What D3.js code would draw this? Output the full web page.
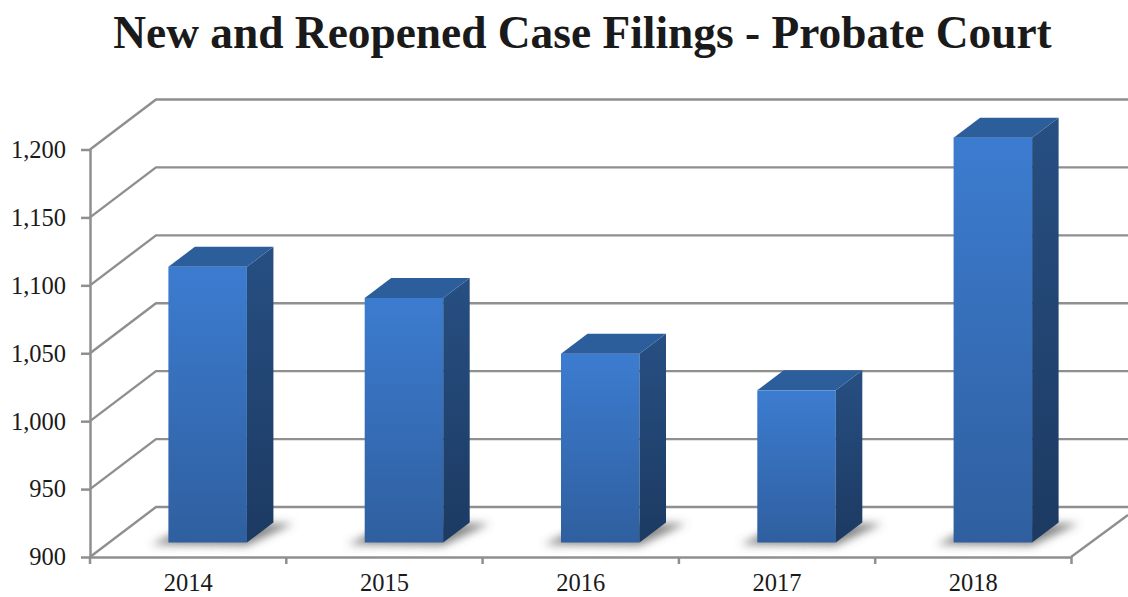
<!DOCTYPE html>
<html>
<head>
<meta charset="utf-8">
<script src="https://d3js.org/d3.v7.min.js"></script>
<style>
  html, body { margin: 0; padding: 0; background: #fff; overflow: hidden; }
  text { font-family: "Liberation Serif", serif; fill: #1a1a1a; }
</style>
</head>
<body>
<div id="chart"></div>
<script>
var title = "New and Reopened Case Filings - Probate Court";
var years = ["2014", "2015", "2016", "2017", "2018"];
var filings = [1103, 1080, 1039, 1012, 1198];
var yTicks = [900, 950, 1000, 1050, 1100, 1150, 1200];

var width = 1128, height = 597;

var svg = d3.select("#chart").append("svg")
    .attr("width", width)
    .attr("height", height)
    .style("display", "block");

var x = d3.scaleBand().domain(years).range([90, 1071.5]).paddingInner(0).paddingOuter(0);
var y = d3.scaleLinear().domain([900, 1200]).range([557, 149.5]);

// 3d offsets
var wall = { dx: 66, dy: -50 };
var front = { dx: 19.5, dy: -14.5 };
var depth = { dx: 26.5, dy: -20 };
var barWidth = x.bandwidth() * 0.4;

var defs = svg.append("defs");

function gradient(id, top, bottom) {
    var g = defs.append("linearGradient").attr("id", id)
        .attr("x1", 0).attr("y1", 0).attr("x2", 0).attr("y2", 1);
    g.append("stop").attr("offset", "0%").attr("stop-color", top);
    g.append("stop").attr("offset", "100%").attr("stop-color", bottom);
}
gradient("frontFace", "#3c7cd0", "#2f5f9f");
gradient("sideFace", "#274f82", "#1c3a62");

defs.append("filter").attr("id", "blur")
    .attr("x", "-30%").attr("y", "-50%").attr("width", "160%").attr("height", "200%")
    .append("feGaussianBlur").attr("stdDeviation", 4.5);

svg.append("text")
    .attr("x", 582.5)
    .attr("y", 48)
    .attr("text-anchor", "middle")
    .attr("font-size", 45.4)
    .attr("font-weight", "bold")
    .text(title);

// wall and floor lines
var grid = svg.append("g").attr("class", "grid")
    .attr("fill", "none").attr("stroke", "#8f8f8f").attr("stroke-width", 2.4);

grid.selectAll("path")
    .data(yTicks)
    .enter().append("path")
    .attr("d", function(d) {
        var p = d3.path();
        p.moveTo(90, y(d));
        p.lineTo(90 + wall.dx, y(d) + wall.dy);
        p.lineTo(width, y(d) + wall.dy);
        return p.toString();
    });

grid.append("path")
    .attr("d", function() {
        var p = d3.path();
        p.moveTo(1071, y(900));
        p.lineTo(width, y(900) - 42);
        return p.toString();
    });

// axes
var yAxis = svg.append("g").attr("class", "yaxis")
    .attr("transform", "translate(90,0)")
    .call(d3.axisLeft(y).tickValues(yTicks).tickFormat(d3.format(",")).tickSize(9).tickSizeOuter(0));

yAxis.selectAll("text").attr("x", -24).attr("font-size", 24.5).attr("font-family", null);

var xAxis = svg.append("g").attr("class", "xaxis")
    .attr("transform", "translate(0," + y(900) + ")")
    .call(d3.axisBottom(x).tickSize(0));

xAxis.selectAll("text").attr("y", 17).attr("font-size", 24.5).attr("font-family", null);

xAxis.selectAll(".edge")
    .data(years.concat("end"))
    .enter().append("line")
    .attr("class", "edge")
    .attr("x1", function(d, i) { return x(years[0]) + i * x.step(); })
    .attr("x2", function(d, i) { return x(years[0]) + i * x.step(); })
    .attr("y1", 0)
    .attr("y2", 7);

svg.selectAll(".yaxis path, .yaxis line, .xaxis path, .xaxis line")
    .attr("stroke", "#8f8f8f")
    .attr("stroke-width", 2.5);

// bars
var bars = svg.append("g").attr("class", "bars")
    .selectAll("g")
    .data(years)
    .enter().append("g")
    .attr("class", "bar");

function barLeft(d) { return x(d) + (x.bandwidth() - barWidth) / 2 + front.dx; }
function barBase() { return y(900) + front.dy; }
function barTop(d, i) { return y(filings[i]) + front.dy; }

function poly(points) {
    return d3.line()(points) + "Z";
}

bars.append("path")
    .attr("fill", "#555")
    .attr("fill-opacity", 0.7)
    .attr("filter", "url(#blur)")
    .attr("d", function(d) {
        var l = barLeft(d), b = barBase(), r = l + barWidth;
        return poly([[l - 17, b + 2], [r, b + 3], [r + depth.dx + 20, b + depth.dy + 1], [l + depth.dx, b + depth.dy + 1]]);
    });

bars.append("rect")
    .attr("fill", "url(#frontFace)")
    .attr("x", barLeft)
    .attr("width", barWidth)
    .attr("y", barTop)
    .attr("height", function(d, i) { return barBase() - barTop(d, i); });

bars.append("path")
    .attr("fill", "url(#sideFace)")
    .attr("d", function(d, i) {
        var r = barLeft(d) + barWidth, t = barTop(d, i), b = barBase();
        return poly([[r, t], [r + depth.dx, t + depth.dy], [r + depth.dx, b + depth.dy], [r, b]]);
    });

bars.append("path")
    .attr("fill", "#2c5e9c")
    .attr("d", function(d, i) {
        var l = barLeft(d), t = barTop(d, i);
        return poly([[l, t], [l + barWidth, t], [l + barWidth + depth.dx, t + depth.dy], [l + depth.dx, t + depth.dy]]);
    });
</script>
</body>
</html>
